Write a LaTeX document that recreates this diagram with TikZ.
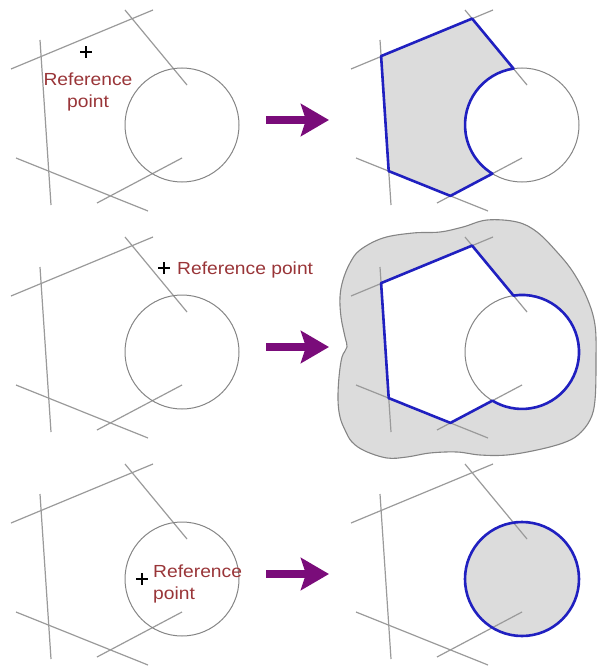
\documentclass[tikz,border=0pt]{standalone}
\usepackage{fontspec}
\newfontfamily\labelfont[FakeStretch=1.1]{Liberation Sans}
\usetikzlibrary{arrows.meta}
\definecolor{LineGray}{HTML}{9A9A9A}
\definecolor{CircleGray}{HTML}{858585}
\definecolor{HullBlue}{HTML}{2020C0}
\definecolor{ZoneFill}{HTML}{DCDCDC}
\definecolor{ArrowPurple}{HTML}{7A0C7A}
\definecolor{LabelRed}{HTML}{993538}

% the five street lines and the circle of one panel
\newcommand{\streetset}{%
  \draw[street] (11,-69) -- (153,-10);
  \draw[street] (125,-10) -- (187,-85);
  \draw[street] (40,-40) -- (51,-205);
  \draw[street] (16,-158) -- (148,-211);
  \draw[street] (97,-203) -- (182,-158);
  \draw[ring] (182,-125) circle[radius=57];
}

\begin{document}
\begin{tikzpicture}[x=1pt,y=1pt,>=Latex,
    street/.style={draw=LineGray,line width=1.2pt},
    ring/.style={draw=CircleGray,line width=1pt},
    hull/.style={draw=HullBlue,line width=2.6pt,line join=round},
    stepper/.style={ArrowPurple,line width=8pt,-{Stealth[length=28pt,width=32pt,inset=5pt]}},
    reflabel/.style={text=LabelRed,inner sep=0pt,font=\labelfont\fontsize{17.5}{22}\selectfont},
    refcross/.style={black,line width=1.5pt}]
  \useasboundingbox (0,0) rectangle (597,-666);

  % buffer zone of the middle result
  \draw[draw=CircleGray,line width=1.1pt,fill=ZoneFill] plot[smooth cycle,tension=0.6] coordinates {
    (360,-250) (383,-238) (413,-233) (440,-232) (463,-227)
    (487,-220) (517,-222) (537,-232) (557,-252) (573,-272) (587,-298) (595,-325)
    (596,-360) (595,-400) (590,-420) (578,-435) (563,-443) (537,-450) (507,-455)
    (480,-455) (457,-452) (430,-453) (407,-457) (387,-458) (365,-451) (352,-442)
    (345,-430) (340,-417) (338,-400) (339,-377) (342,-357) (347,-347) (345,-337)
    (341,-317) (340,-297) (343,-280) (350,-263)};
  \begin{scope}[shift={(340,-227)}]
    \fill[white] (41.1,-56.1) -- (132.1,-18.6) -- (173.5,-68.6)
      arc[start angle=98.6,end angle=-121.3,radius=57] -- (110.4,-195.9) -- (48.7,-171.1) -- cycle;
  \end{scope}
  \begin{scope}[shift={(340,0)}]
    \fill[ZoneFill] (41.1,-56.1) -- (132.1,-18.6) -- (173.5,-68.6)
      arc[start angle=98.6,end angle=238.7,radius=57] -- (110.4,-195.9) -- (48.7,-171.1) -- cycle;
  \end{scope}
  \fill[ZoneFill] (522,-579) circle[radius=57];

  % the six panels
  \foreach \dx/\dy in {0/0,340/0,0/227,340/227,0/454,340/454} {
    \begin{scope}[shift={(\dx,-\dy)}]
      \streetset
    \end{scope}
  }

  % results
  \begin{scope}[shift={(340,0)}]
    \draw[hull] (41.1,-56.1) -- (132.1,-18.6) -- (173.5,-68.6)
      arc[start angle=98.6,end angle=238.7,radius=57] -- (110.4,-195.9) -- (48.7,-171.1) -- cycle;
  \end{scope}
  \begin{scope}[shift={(340,-227)}]
    \draw[hull] (41.1,-56.1) -- (132.1,-18.6) -- (173.5,-68.6)
      arc[start angle=98.6,end angle=-121.3,radius=57] -- (110.4,-195.9) -- (48.7,-171.1) -- cycle;
  \end{scope}
  \draw[hull] (522,-579) circle[radius=57];

  % arrows
  \foreach \k/\y in {1/120,2/347,3/574} {
    \coordinate (s\k) at (266,-\y);
    \coordinate (t\k) at (329,-\y);
    \draw[stepper] (s\k) -- (t\k);
  }

  % reference points
  \coordinate (rp1) at (86,-52);
  \coordinate (rp2) at (164,-268);
  \coordinate (rp3) at (142,-579);
  \foreach \k in {1,2,3}
    \draw[refcross] (rp\k) +(-6,0) -- +(6,0) +(0,-6) -- +(0,6);
  \node[reflabel,align=center] (ref1) at (88,-91.5) {Reference\\point};
  \node[reflabel,anchor=base west] (ref2) at (177,-274) {Reference point};
  \node[reflabel,align=left,anchor=west] (ref3) at (153,-583.5) {Reference\\point};
\end{tikzpicture}
\end{document}
